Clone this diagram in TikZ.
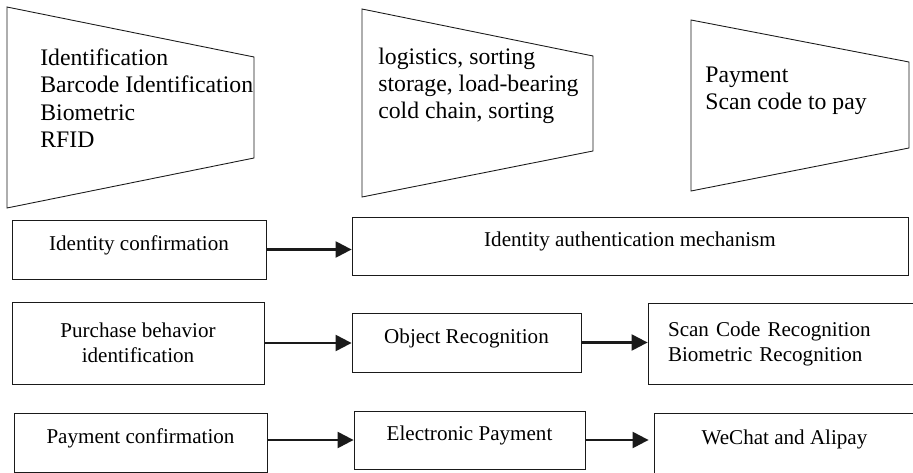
\documentclass[tikz,border=0pt]{standalone}
\usepackage{fontspec}
\setmainfont{Liberation Serif}
\usetikzlibrary{arrows.meta}
\definecolor{inkblack}{HTML}{1A1A1A}

\begin{document}
\begin{tikzpicture}[
  x=0.02cm, y=-0.02cm,
  >={Triangle[length=0.32cm,width=0.32cm]},
  trap/.style={draw=inkblack, line width=0.5pt},
  listtext/.style={anchor=north west, inner sep=0pt, align=left, font=\fontsize{13.5}{15.5}\selectfont},
  stagebox/.style={draw=inkblack, line width=0.5pt, align=center, font=\fontsize{12}{14.2}\selectfont},
  onebase/.style={text height=8.5pt, text depth=7.5pt},
  flow/.style={->, draw=inkblack, line width=1.3pt}
]
  \useasboundingbox (0,0) rectangle (913,473);

  % upper trapezoids
  \draw[trap] (7,7) -- (254,57) -- (254,158) -- (7,208) -- cycle;
  \draw[trap] (362,9) -- (593,56) -- (593,151) -- (362,197) -- cycle;
  \draw[trap] (691,20) -- (909,62) -- (909,148) -- (691,191) -- cycle;

  \node[listtext] (ident) at (40,48.7) {Identification\\Barcode Identification\\Biometric\\RFID};
  \node[listtext] (logis) at (378,47.7) {logistics, sorting\\storage, load-bearing\\cold chain, sorting};
  \node[listtext] (pay) at (705,66.2) {Payment\\Scan code to pay};

  % row 1
  \node[stagebox, onebase, minimum width=5.08cm, minimum height=1.18cm] (idConf) at (139,249.5) {Identity confirmation};
  \node[stagebox, onebase, minimum width=11.12cm, minimum height=1.16cm] (idAuth) at (630,246) {Identity authentication mechanism};

  % row 2
  \node[stagebox, minimum width=5.04cm, minimum height=1.64cm] (purch) at (138,343) {Purchase behavior\\identification};
  \node[stagebox, onebase, minimum width=4.58cm, minimum height=1.18cm] (objRec) at (466.5,342.5) {Object Recognition};
  \node[stagebox, align=left, text width=4.64cm, inner xsep=0.4cm, minimum height=1.62cm] (scanRec) at (784,343.5) {Scan Code Recognition\\Biometric Recognition};

  % row 3
  \node[stagebox, onebase, minimum width=5.06cm, minimum height=1.18cm] (payConf) at (140.5,442.5) {Payment confirmation};
  \node[stagebox, onebase, minimum width=4.62cm, minimum height=1.16cm] (ePay) at (469.5,440) {Electronic Payment};
  \node[stagebox, onebase, minimum width=5.22cm, minimum height=1.24cm] (weChat) at (784.5,444) {WeChat and Alipay};

  \draw[flow] (idConf.east) -- (idConf.east -| idAuth.west);
  \draw[flow] (purch.east) -- (purch.east -| objRec.west);
  \draw[flow] (objRec.east) -- (objRec.east -| scanRec.west);
  \draw[flow] (payConf.east |- ePay.west) -- (ePay.west);
  \draw[flow, shorten >=0.1cm] (ePay.east) -- (ePay.east -| weChat.west);
\end{tikzpicture}
\end{document}
